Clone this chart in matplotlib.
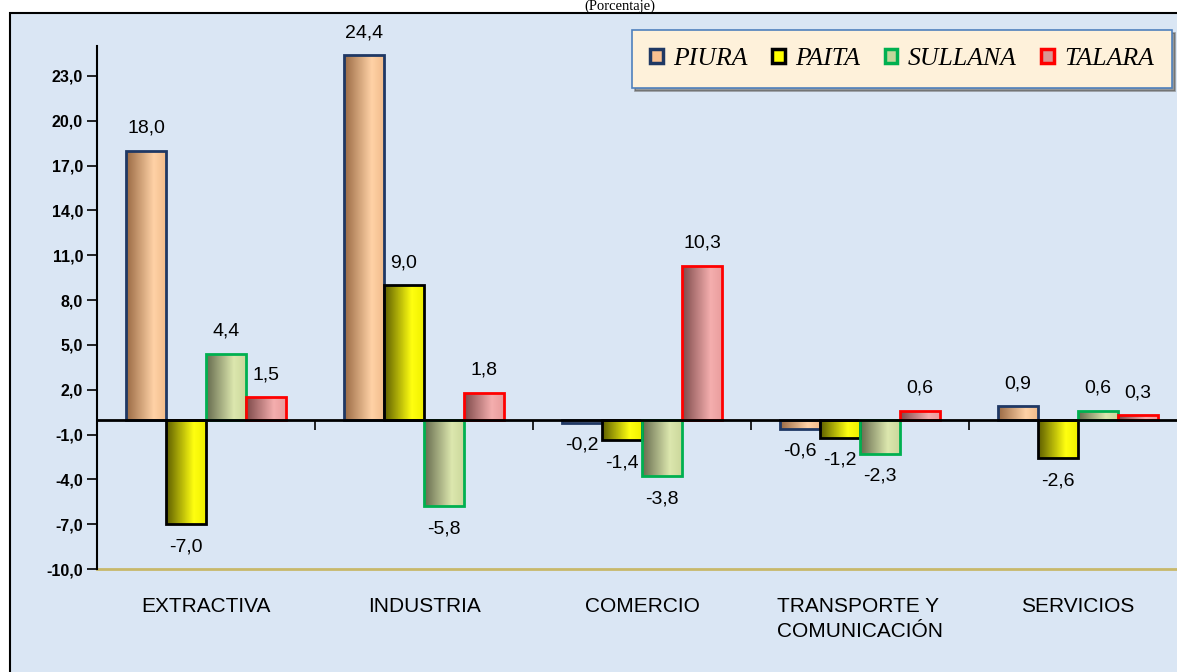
import numpy as np
import matplotlib.pyplot as plt
from matplotlib.patches import Patch, Rectangle
from matplotlib.colors import LinearSegmentedColormap

categories = ['EXTRACTIVA', 'INDUSTRIA', 'COMERCIO', 'TRANSPORTE Y\nCOMUNICACIÓN', 'SERVICIOS']
series_names = ['PIURA', 'PAITA', 'SULLANA', 'TALARA']
piura = [18.0, 24.4, -0.2, -0.6, 0.9]
paita = [-7.0, 9.0, -1.4, -1.2, -2.6]
sullana = [4.4, -5.8, -3.8, -2.3, 0.6]
talara = [1.5, 1.8, 10.3, 0.6, 0.3]
yticks = np.arange(-10, 24, 3)

series = [piura, paita, sullana, talara]
edge_colors = ['#1F3864', '#000000', '#00B050', '#FF0000']
fill_colors = ['#FAC090', '#FFFF00', '#C3D69B', '#D99694']
grad_stops = [
    ('#9A6A44', '#FFD2A6', '#F2BC8C'),
    ('#5E5E00', '#FFFF10', '#F0F000'),
    ('#666B4E', '#DCE7AE', '#CCD89C'),
    ('#7E4A4A', '#F4AEAE', '#E89C9C'),
]
bg = '#DAE6F4'


def fmt(v):
    return f'{v:.1f}'.replace('.', ',')


fig = plt.figure(figsize=(11.77, 6.72), dpi=100)
fig.patch.set_facecolor('white')
# outer frame of the chart area
fig.patches.append(Rectangle((10 / 1177, -0.05), 1.2, 1.05 - 13 / 672,
                             transform=fig.transFigure, facecolor=bg,
                             edgecolor='black', lw=1.5, zorder=-5))
fig.text(620 / 1177, 1 - 10 / 672, '(Porcentaje)', ha='center', va='baseline',
         family='Liberation Serif', fontsize=10.5)

ax = fig.add_axes([97 / 1177, 103 / 672, 1090 / 1177, 523 / 672])
ax.set_facecolor('none')

x = np.arange(len(categories))
w = 40 / 218
for i, (vals, ec, stops) in enumerate(zip(series, edge_colors, grad_stops)):
    cmap = LinearSegmentedColormap.from_list('g%d' % i, [(0, stops[0]), (0.7, stops[1]), (1, stops[2])])
    grad = np.linspace(0, 1, 64).reshape(1, -1)
    bars = ax.bar(x + (i - 1.5) * w, vals, w, facecolor='none', edgecolor=ec, lw=2, zorder=4)
    for b, v in zip(bars, vals):
        x0, y0, bw, bh = b.get_x(), b.get_y(), b.get_width(), b.get_height()
        ax.imshow(grad, cmap=cmap, aspect='auto', extent=(x0, x0 + bw, y0, y0 + bh),
                  zorder=3, interpolation='bilinear')
        off = 10 if v >= 0 else -10
        ax.annotate(fmt(v), (x0 + bw / 2, v),
                    xytext=(0, off), textcoords='offset points', ha='center',
                    va='bottom' if v >= 0 else 'top', fontsize=14,
                    family='Liberation Sans', zorder=6)
ax.set_xlim(-0.5, 4.5)
ax.set_ylim(-10, 25)

# y axis
ax.set_yticks(yticks)
ax.set_yticklabels([fmt(t) for t in yticks], fontsize=11.5, fontweight='bold',
                   family='Liberation Sans')
ax.tick_params(axis='y', direction='out', length=7, width=1.2, pad=3)
ax.spines['left'].set_linewidth(1.5)
ax.spines['right'].set_visible(False)
ax.spines['top'].set_visible(False)

# zero line with category separators
ax.spines['bottom'].set_position(('data', 0))
ax.spines['bottom'].set_linewidth(2)
ax.spines['bottom'].set_zorder(5)
ax.set_xticks(x[:-1] + 0.5)
ax.set_xticklabels([])
ax.tick_params(axis='x', direction='out', length=7, width=1.2)

# category axis at -10
sec = ax.secondary_xaxis(0)
sec.set_xticks(x)
sec.set_xticklabels(categories, fontsize=15, family='Liberation Sans', multialignment='left',
                    linespacing=1.4)
sec.tick_params(length=0, pad=20)
sec.spines['bottom'].set_color('#C8B86A')
sec.spines['bottom'].set_linewidth(2)

handles = [Patch(facecolor=fc, edgecolor=ec, lw=2.5) for fc, ec in zip(fill_colors, edge_colors)]
leg = fig.legend(handles, series_names, loc='upper right', bbox_to_anchor=(1172 / 1177, 1 - 30 / 672),
                 borderaxespad=0, ncol=4, frameon=True, fancybox=False, shadow=True, borderpad=0.7,
                 handlelength=0.5, handleheight=0.5, handletextpad=0.4, columnspacing=0.95,
                 prop={'family': 'Liberation Serif', 'style': 'italic', 'size': 18.5})
leg.get_frame().set_facecolor('#FEF1DA')
leg.get_frame().set_edgecolor('#4F81BD')
leg.get_frame().set_linewidth(1.2)

fig.savefig('out.png', dpi=100)
